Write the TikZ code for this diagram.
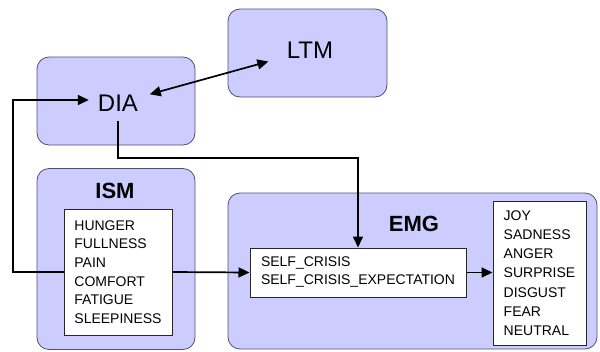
\documentclass[tikz,border=0pt]{standalone}
\usepackage{fontspec}
\setmainfont{Liberation Sans}
\usetikzlibrary{arrows.meta}
\definecolor{boxfill}{HTML}{CCCCFF}
\definecolor{boxline}{HTML}{505070}
\begin{document}
\begin{tikzpicture}[x=1pt,y=-1pt,
 outer/.style={draw=boxline, fill=boxfill, rounded corners=12pt, line width=0.8pt, inner sep=0pt},
 listbox/.style={draw=black!85, fill=white, line width=1pt, inner sep=0pt, align=left, font=\fontsize{14}{18.6}\selectfont},
 big/.style={font=\fontsize{24}{28}\selectfont, inner sep=0pt},
 bigb/.style={font=\bfseries\fontsize{22}{26}\selectfont, inner sep=0pt},
 tip/.tip={Triangle[length=11pt,width=10pt]},
 conn/.style={line width=1.7pt, -tip},
]
\useasboundingbox (0,0) rectangle (600,351);
% outer boxes
\node[outer, minimum width=158pt, minimum height=88pt] (diabox) at (116,101) {};
\node[outer, minimum width=159pt, minimum height=88pt] (ltmbox) at (307.5,53) {};
\node[outer, minimum width=158pt, minimum height=181pt] (ismbox) at (116,259) {};
\node[outer, minimum width=369pt, minimum height=156pt] (emgbox) at (412.5,271) {};
% labels
\node[big] (diatext) at (118,103) {DIA};
\node[big] (ltmtext) at (310,50) {LTM};
\node[bigb] (ismtext) at (115,191) {ISM};
\node[bigb] (emgtext) at (414,224) {EMG};
% list boxes
\node[listbox, minimum width=108pt, minimum height=126pt] (isminner) at (118,272)
  {HUNGER\\FULLNESS\\PAIN\\COMFORT\\FATIGUE\\SLEEPINESS};
\node[listbox, minimum width=216pt, minimum height=49pt, font=\fontsize{14}{18}\selectfont] (selfbox) at (358,272.5)
  {SELF\_CRISIS\\SELF\_CRISIS\_EXPECTATION};
\node[listbox, minimum width=93pt, minimum height=144pt, font=\fontsize{14}{19.2}\selectfont] (emobox) at (539.5,273)
  {JOY\\SADNESS\\ANGER\\SURPRISE\\DISGUST\\FEAR\\NEUTRAL};
% connectors
\coordinate (lc) at (13,100);
\coordinate (dc) at (358,158);
\draw[line width=1.7pt, tip-tip, shorten <=12pt, shorten >=19pt] (diatext) -- (ltmtext);
\draw[conn, shorten >=9pt] (isminner.west) -| (lc) -- (lc -| diatext.west);
\draw[conn] (isminner.east) -- (selfbox.west);
\draw[conn] (selfbox.east) -- (emobox.west |- selfbox.east);
\draw[conn, shorten <=10pt] (diatext.south) |- (dc) -- (selfbox.north);
\end{tikzpicture}
\end{document}
